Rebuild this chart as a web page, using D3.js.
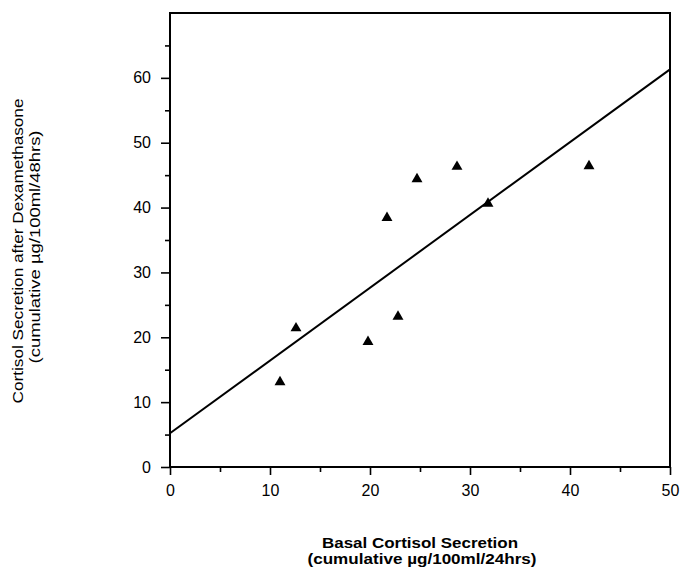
<!DOCTYPE html>
<html lang="en">
<head>
    <meta charset="UTF-8">
    <title>Cortisol Secretion</title>
    <script src="https://cdnjs.cloudflare.com/ajax/libs/d3/7.8.5/d3.min.js"></script>
    <style>
        body {
            margin: 0;
            background: #fff;
            font-family: "Liberation Sans", Arial, sans-serif;
        }
        svg text {
            fill: #000;
        }
    </style>
</head>
<body>
    <svg id="chart" width="685" height="574"></svg>

    <script>
        // Basal cortisol (x) vs cortisol after dexamethasone (y)
        const basal = [11, 12.6, 19.8, 21.7, 22.8, 24.7, 28.7, 31.8, 41.9];
        const afterDex = [13.1, 21.4, 19.3, 38.4, 23.2, 44.4, 46.3, 40.6, 46.4];

        // regression line end points
        const fitX = [0, 50];
        const fitY = [5.2, 61.3];

        const xTicks = [0, 10, 20, 30, 40, 50];
        const yTicks = [0, 10, 20, 30, 40, 50, 60];

        const svg = d3.select("#chart");
        const plotLeft = 170, plotRight = 670, plotTop = 13, plotBottom = 467;

        const x = d3.scaleLinear().domain([0, 50]).range([plotLeft, plotRight]);
        const y = d3.scaleLinear().domain([0, 70]).range([plotBottom, plotTop]);

        // frame
        svg.append("rect")
            .attr("x", plotLeft)
            .attr("y", plotTop)
            .attr("width", plotRight - plotLeft)
            .attr("height", plotBottom - plotTop)
            .attr("fill", "none")
            .attr("stroke", "#000")
            .attr("stroke-width", 2);

        // y axis: major ticks with labels, minor ticks at the fives
        const yMinor = svg.append("g").attr("transform", `translate(${plotLeft},0)`)
            .call(d3.axisLeft(y).tickValues(d3.range(5, 70, 10)).tickSize(5).tickFormat(""));
        yMinor.select(".domain").remove();
        const yMajor = svg.append("g").attr("transform", `translate(${plotLeft},0)`)
            .call(d3.axisLeft(y).tickValues(yTicks).tickSize(9).tickPadding(10).tickFormat(d3.format("d")));
        yMajor.select(".domain").remove();

        // x axis
        const xMinor = svg.append("g").attr("transform", `translate(0,${plotBottom})`)
            .call(d3.axisBottom(x).tickValues(d3.range(5, 50, 10)).tickSize(5).tickFormat(""));
        xMinor.select(".domain").remove();
        const xMajor = svg.append("g").attr("transform", `translate(0,${plotBottom})`)
            .call(d3.axisBottom(x).tickValues(xTicks).tickSize(8).tickPadding(10).tickFormat(d3.format("d")));
        xMajor.select(".domain").remove();

        svg.selectAll(".tick line").attr("stroke", "#000").attr("stroke-width", 1.6);
        svg.selectAll(".tick text")
            .attr("font-family", "'Liberation Sans', Arial, sans-serif")
            .attr("font-size", 16)
            .attr("fill", "#000");

        // regression line
        const line = d3.line().x(d => x(d[0])).y(d => y(d[1]));
        svg.append("path")
            .datum(fitX.map((v, i) => [v, fitY[i]]))
            .attr("d", line)
            .attr("fill", "none")
            .attr("stroke", "#000")
            .attr("stroke-width", 2);

        // data points (triangles)
        const tri = d3.symbol().type(d3.symbolTriangle).size(52);
        svg.append("g")
            .selectAll("path")
            .data(basal.map((v, i) => [v, afterDex[i]]))
            .enter()
            .append("path")
            .attr("d", tri)
            .attr("transform", d => `translate(${x(d[0])},${y(d[1])})`)
            .attr("fill", "#000");

        // axis titles
        function title(tx, ty, rot, str, len, bold) {
            svg.append("text")
                .attr("transform", `translate(${tx},${ty}) rotate(${rot})`)
                .attr("text-anchor", "middle")
                .attr("font-size", 15)
                .attr("font-weight", bold ? "bold" : "normal")
                .attr("textLength", len)
                .attr("lengthAdjust", "spacingAndGlyphs")
                .text(str);
        }
        title(420, 548, 0, "Basal Cortisol Secretion", 196, true);
        title(422, 564, 0, "(cumulative µg/100ml/24hrs)", 229, true);
        title(23, 251, -90, "Cortisol Secretion after Dexamethasone", 305, false);
        title(40, 247, -90, "(cumulative µg/100ml/48hrs)", 233, false);
    </script>
</body>
</html>
